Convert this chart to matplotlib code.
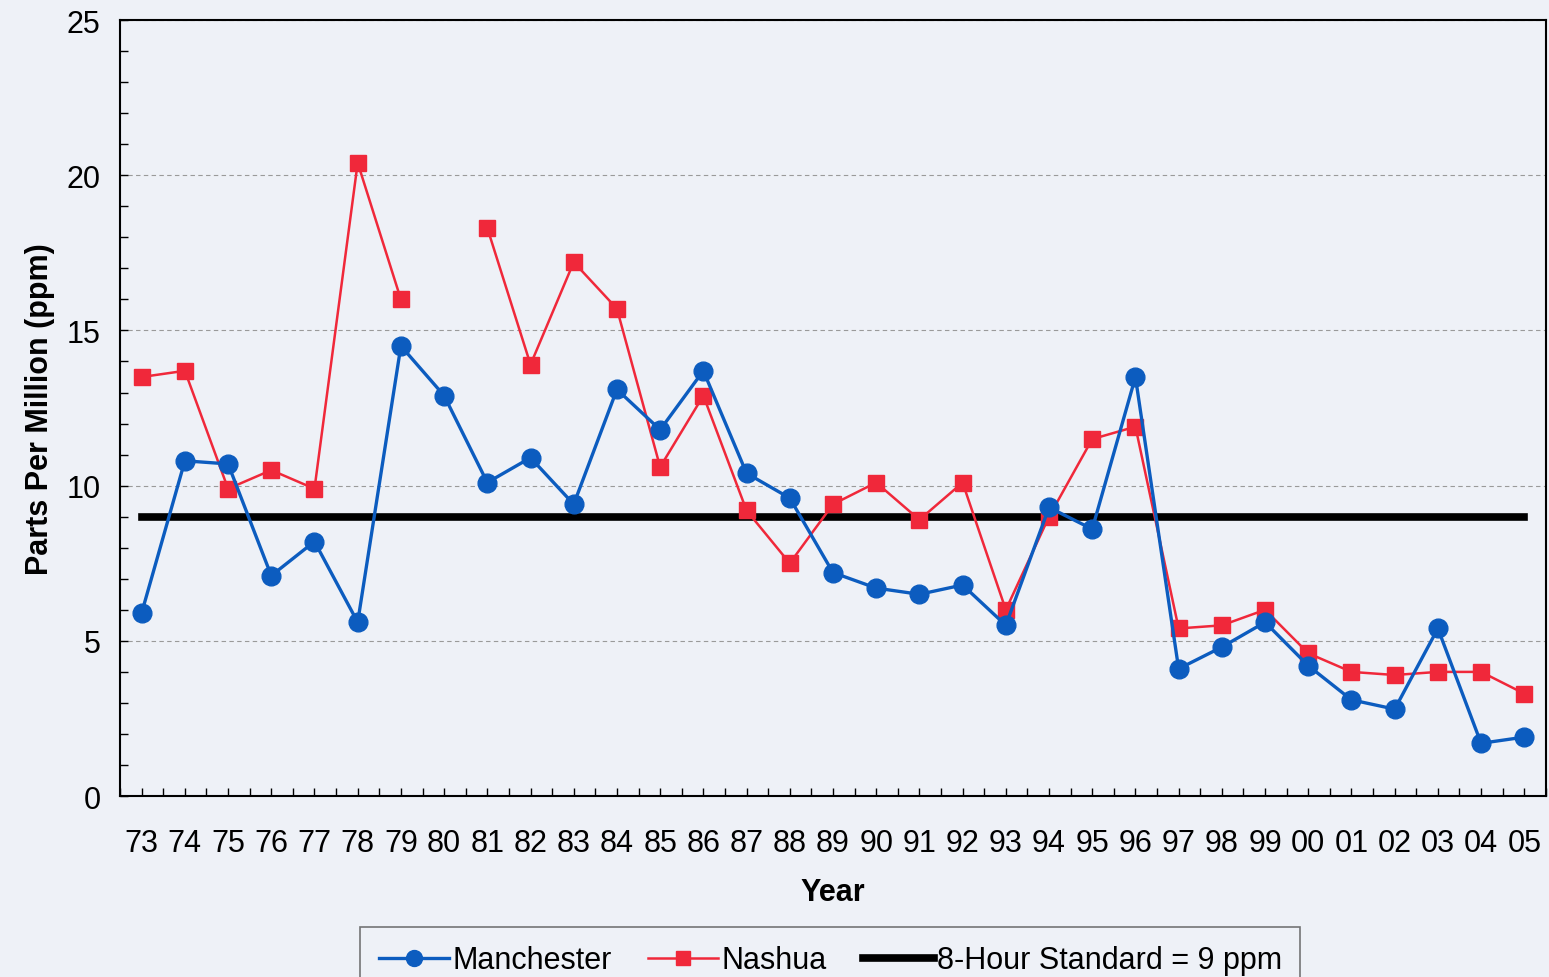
import numpy as np
import matplotlib
matplotlib.use('Agg')
import matplotlib.pyplot as plt
from matplotlib.ticker import MultipleLocator

plt.rcParams['font.family'] = ['Liberation Sans', 'DejaVu Sans']

years = ['73', '74', '75', '76', '77', '78', '79', '80', '81', '82', '83',
         '84', '85', '86', '87', '88', '89', '90', '91', '92', '93', '94',
         '95', '96', '97', '98', '99', '00', '01', '02', '03', '04', '05']
manchester = [5.9, 10.8, 10.7, 7.1, 8.2, 5.6, 14.5, 12.9, 10.1, 10.9, 9.4,
              13.1, 11.8, 13.7, 10.4, 9.6, 7.2, 6.7, 6.5, 6.8, 5.5, 9.3,
              8.6, 13.5, 4.1, 4.8, 5.6, 4.2, 3.1, 2.8, 5.4, 1.7, 1.9]
nashua = [13.5, 13.7, 9.9, 10.5, 9.9, 20.4, 16.0, np.nan, 18.3, 13.9, 17.2,
          15.7, 10.6, 12.9, 9.2, 7.5, 9.4, 10.1, 8.9, 10.1, 6.0, 9.0,
          11.5, 11.9, 5.4, 5.5, 6.0, 4.6, 4.0, 3.9, 4.0, 4.0, 3.3]
standard = 9

bg = '#eef1f7'
fig = plt.figure(figsize=(15.49, 9.78), dpi=100, facecolor=bg)
ax = fig.add_axes([0.0775, 0.185, 0.9205, 0.7935])
ax.set_facecolor(bg)

x = np.arange(len(years))
ax.plot(x, [standard] * len(x), color='black', linewidth=5.5,
        label='8-Hour Standard = 9 ppm', zorder=2)
ax.plot(x, nashua, color='#f0283a', linewidth=1.8, marker='s', markersize=12,
        label='Nashua', zorder=3)
ax.plot(x, manchester, color='#0c5cbf', linewidth=2.4, marker='o', markersize=13.5,
        label='Manchester', zorder=4)

ax.set_xlim(-0.5, len(years) - 0.5)
ax.set_ylim(0, 25)
ax.set_xticks(x)
ax.set_xticklabels(years)
ax.xaxis.set_minor_locator(MultipleLocator(0.5))
ax.yaxis.set_major_locator(MultipleLocator(5))
ax.yaxis.set_minor_locator(MultipleLocator(1))
ax.tick_params(axis='both', which='both', direction='in', length=6,
               width=1, labelsize=22, top=False, right=False)
ax.tick_params(axis='x', which='major', pad=23)
ax.tick_params(axis='y', which='major', pad=14)
for s in ax.spines.values():
    s.set_linewidth(1.5)

ax.grid(axis='y', which='major', linestyle=(0, (4, 3)), color='#9a9a9a',
        linewidth=0.8)
ax.set_axisbelow(True)

ax.set_xlabel('Year', fontsize=22, fontweight='bold', labelpad=14)
ax.set_ylabel('Parts Per Million (ppm)', fontsize=22, fontweight='bold',
              labelpad=8)

h, l = ax.get_legend_handles_labels()
leg = fig.legend([h[2], h[1], h[0]], [l[2], l[1], l[0]], loc='upper center',
                 bbox_to_anchor=(0.536, 1 - 928 / 978), ncol=3, fontsize=22,
                 frameon=True, fancybox=False, edgecolor='#555555',
                 facecolor=bg, handlelength=2.3, handletextpad=0.1,
                 columnspacing=1.2, borderpad=0.6, borderaxespad=0,
                 markerscale=0.85)
leg.get_frame().set_linewidth(1.2)

fig.savefig('out.png', dpi=100, facecolor=bg)
